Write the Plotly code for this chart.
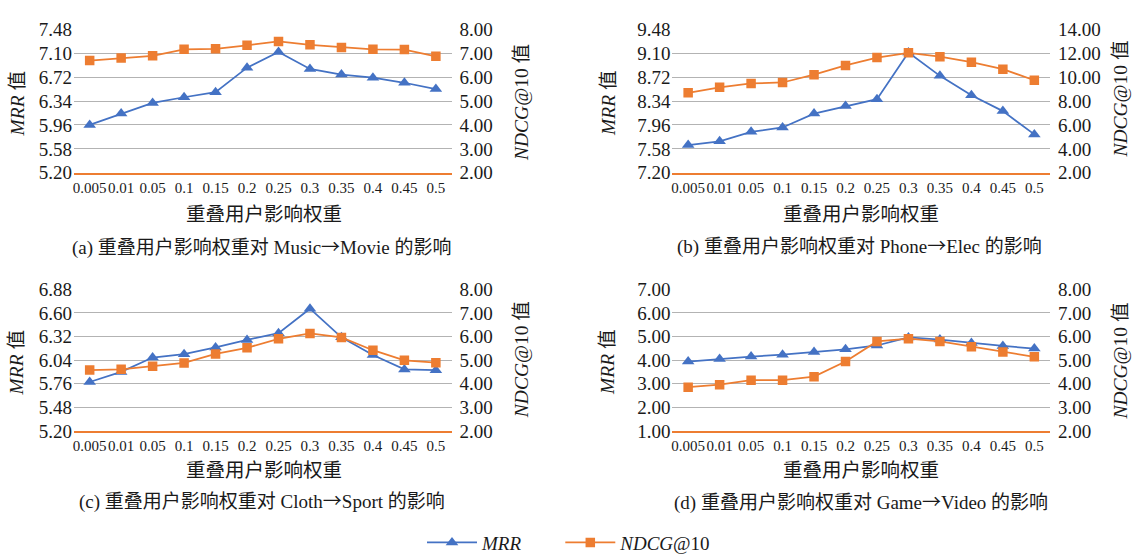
import plotly.graph_objects as go

W, H = 1137, 570  # layout height a bit taller than the 558 window so the legend can sit low
FONT = "Liberation Serif, 'Times New Roman', 'Noto Sans CJK SC', serif"
BLUE = "#4472C4"
ORANGE = "#ED7D31"
GRID = "#b3b3b3"
TXT = "#1a1a1a"

categories = ["0.005", "0.01", "0.05", "0.1", "0.15", "0.2", "0.25", "0.3", "0.35", "0.4", "0.45", "0.5"]

# (a) Music->Movie
mrr_a = [5.96, 6.14, 6.31, 6.40, 6.48, 6.87, 7.12, 6.85, 6.76, 6.71, 6.63, 6.53]
ndcg_a = [6.69, 6.80, 6.89, 7.16, 7.18, 7.33, 7.49, 7.35, 7.24, 7.16, 7.15, 6.87]
# (b) Phone->Elec
mrr_b = [7.64, 7.70, 7.85, 7.92, 8.14, 8.26, 8.37, 9.11, 8.74, 8.43, 8.18, 7.81]
ndcg_b = [8.69, 9.15, 9.47, 9.55, 10.20, 10.98, 11.63, 12.03, 11.71, 11.25, 10.66, 9.74]
# (c) Cloth->Sport
mrr_c = [5.78, 5.90, 6.07, 6.11, 6.19, 6.28, 6.36, 6.65, 6.31, 6.10, 5.93, 5.92]
ndcg_c = [4.58, 4.61, 4.74, 4.88, 5.26, 5.52, 5.90, 6.13, 5.96, 5.42, 4.99, 4.89]
# (d) Game->Video
mrr_d = [3.94, 4.05, 4.15, 4.23, 4.34, 4.46, 4.62, 4.96, 4.87, 4.72, 4.60, 4.49]
ndcg_d = [3.85, 3.96, 4.15, 4.15, 4.30, 4.94, 5.79, 5.91, 5.79, 5.57, 5.34, 5.14]

# axis tick values
left_ticks_a = [5.20, 5.58, 5.96, 6.34, 6.72, 7.10, 7.48]
right_ticks_a = [2.00, 3.00, 4.00, 5.00, 6.00, 7.00, 8.00]
left_ticks_b = [7.20, 7.58, 7.96, 8.34, 8.72, 9.10, 9.48]
right_ticks_b = [2.00, 4.00, 6.00, 8.00, 10.00, 12.00, 14.00]
left_ticks_c = [5.20, 5.48, 5.76, 6.04, 6.32, 6.60, 6.88]
right_ticks_c = [2.00, 3.00, 4.00, 5.00, 6.00, 7.00, 8.00]
left_ticks_d = [1.00, 2.00, 3.00, 4.00, 5.00, 6.00, 7.00]
right_ticks_d = [2.00, 3.00, 4.00, 5.00, 6.00, 7.00, 8.00]

ARROW = "<span style=\"font-family:'Noto Sans CJK SC'\">→</span>"
captions = [
    f"(a) 重叠用户影响权重对 Music{ARROW}Movie 的影响",
    f"(b) 重叠用户影响权重对 Phone{ARROW}Elec 的影响",
    f"(c) 重叠用户影响权重对 Cloth{ARROW}Sport 的影响",
    f"(d) 重叠用户影响权重对 Game{ARROW}Video 的影响",
]
xtitle = "重叠用户影响权重"
ltitle = "<i>MRR</i> 值"
rtitle = "<i>NDCG</i>@10 值"
legend_names = ["<i>MRR</i>" + "\u00a0" * 7, "<i>NDCG</i>@10"]


def px_x(v):
    return v / W


def px_y(v):
    return 1 - v / H


# plot areas in pixels: (x0, x1, ytop, ybottom)
panels = [
    (73, 451, 20, 169),
    (672, 1050, 20, 169),
    (73, 451, 290, 437),
    (672, 1050, 290, 437),
]
data = [
    (mrr_a, ndcg_a, left_ticks_a, right_ticks_a),
    (mrr_b, ndcg_b, left_ticks_b, right_ticks_b),
    (mrr_c, ndcg_c, left_ticks_c, right_ticks_c),
    (mrr_d, ndcg_d, left_ticks_d, right_ticks_d),
]
# label positions in pixels
ltitle_pos = [(16, 97), (608, 97), (16, 366), (607, 366)]
rtitle_pos = [(521, 96), (1121, 93), (521, 363), (1121, 365)]
xtitle_pos = [(263, 212), (861, 212), (263, 478), (861, 478)]
cap_pos = [(261, 244), (859, 243), (261, 508), (861, 509)]

fig = go.Figure()
layout = dict(
    width=W, height=H,
    margin=dict(l=0, r=0, t=0, b=0),
    paper_bgcolor="white", plot_bgcolor="rgba(0,0,0,0)",
    font=dict(family=FONT, color=TXT),
    showlegend=True,
    legend=dict(orientation="h", x=0.5, xanchor="center", y=px_y(553), yanchor="middle",
                font=dict(family=FONT, size=19, color=TXT), itemwidth=50, tracegroupgap=0,
                bgcolor="rgba(0,0,0,0)"),
)
annotations = []

for i, ((x0, x1, yt, yb), (mrr, ndcg, lt, rt)) in enumerate(zip(panels, data)):
    n = i + 1
    xa = "x" if n == 1 else f"x{n}"
    ly = 2 * i + 1
    ry = 2 * i + 2
    lya = "y" if ly == 1 else f"y{ly}"
    rya = f"y{ry}"
    xkey = "xaxis" if n == 1 else f"xaxis{n}"
    lkey = "yaxis" if ly == 1 else f"yaxis{ly}"
    rkey = f"yaxis{ry}"

    layout[xkey] = dict(
        domain=[px_x(x0), px_x(x1)], anchor=lya, type="category",
        categoryorder="array", categoryarray=categories,
        range=[-0.5, 11.5], showgrid=False, showline=True, linecolor=ORANGE, linewidth=1.5,
        ticks="", tickangle=0, tickfont=dict(family=FONT, size=15, color=TXT), zeroline=False,
        ticklabelstandoff=0,
    )
    layout[lkey] = dict(
        domain=[px_y(yb), px_y(yt)], anchor=xa, range=[lt[0], lt[-1]],
        tickvals=lt, ticktext=[f"{v:.2f}" for v in lt], showgrid=True, gridcolor=GRID,
        gridwidth=1, zeroline=False, showline=False, ticks="",
        tickfont=dict(family=FONT, size=19, color=TXT), ticklabelstandoff=1,
    )
    layout[rkey] = dict(
        overlaying=lya, anchor=xa, side="right", range=[rt[0], rt[-1]],
        tickvals=rt, ticktext=[f"{v:.2f}" for v in rt], showgrid=False, zeroline=False,
        showline=False, ticks="", tickfont=dict(family=FONT, size=19, color=TXT),
        ticklabelstandoff=7,
    )

    fig.add_trace(go.Scatter(
        x=categories, y=mrr, xaxis=xa, yaxis=lya, mode="lines+markers",
        name=legend_names[0], legendgroup="mrr", showlegend=(i == 0),
        line=dict(color=BLUE, width=1.75),
        marker=dict(symbol="triangle-up", size=11, color=BLUE),
    ))
    fig.add_trace(go.Scatter(
        x=categories, y=ndcg, xaxis=xa, yaxis=rya, mode="lines+markers",
        name=legend_names[1], legendgroup="ndcg", showlegend=(i == 0),
        line=dict(color=ORANGE, width=1.75),
        marker=dict(symbol="square", size=9.5, color=ORANGE),
    ))

    lx, lyy = ltitle_pos[i]
    annotations.append(dict(text=ltitle, x=px_x(lx), y=px_y(lyy), xref="paper", yref="paper",
                            showarrow=False, textangle=-90, font=dict(family=FONT, size=19.5, color=TXT),
                            xanchor="center", yanchor="middle"))
    rx, ryy = rtitle_pos[i]
    annotations.append(dict(text=rtitle, x=px_x(rx), y=px_y(ryy), xref="paper", yref="paper",
                            showarrow=False, textangle=-90, font=dict(family=FONT, size=19.5, color=TXT),
                            xanchor="center", yanchor="middle"))
    tx, ty = xtitle_pos[i]
    annotations.append(dict(text=xtitle, x=px_x(tx), y=px_y(ty), xref="paper", yref="paper",
                            showarrow=False, font=dict(family=FONT, size=19.5, color=TXT),
                            xanchor="center", yanchor="middle"))
    cx, cy = cap_pos[i]
    annotations.append(dict(text=captions[i], x=px_x(cx), y=px_y(cy), xref="paper", yref="paper",
                            showarrow=False, font=dict(family=FONT, size=19, color=TXT),
                            xanchor="center", yanchor="middle"))

layout["annotations"] = annotations
fig.update_layout(**layout)
fig.write_html(
    "out.html",
    config={"displayModeBar": False},
    post_script="document.body.style.margin='0px';document.body.style.overflow='hidden';",
)
